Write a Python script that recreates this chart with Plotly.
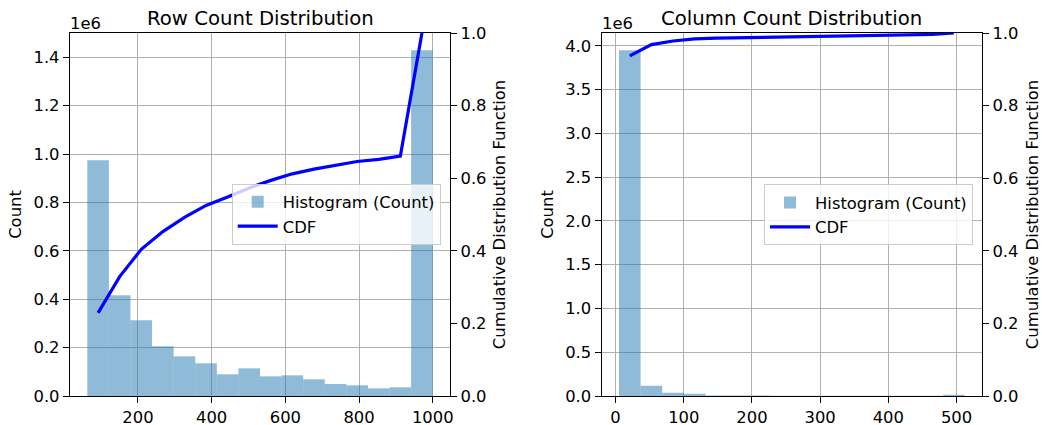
import plotly.graph_objects as go

# ---------------- data ----------------
row_bin_edges = [62.5, 121.1, 179.7, 238.3, 296.9, 355.5, 414.1, 472.7, 531.3,
                 589.8, 648.4, 707.0, 765.6, 824.2, 882.8, 941.4, 1000.0]
row_counts = [974500, 416300, 312900, 205400, 164000, 135100, 89600, 114400,
              81300, 85500, 68900, 49600, 44100, 31700, 35800, 1429300]
row_cdf = [0.229, 0.329, 0.404, 0.453, 0.492, 0.525, 0.548, 0.573, 0.594,
           0.612, 0.625, 0.636, 0.646, 0.652, 0.661, 1.0]

col_bin_edges = [5.0, 36.7, 68.4, 100.1, 131.8, 163.4, 195.1, 226.8, 258.5,
                 290.2, 321.9, 353.6, 385.3, 417.0, 448.6, 480.3, 512.0]
col_counts = [3950000, 118000, 38000, 25000, 6000, 5000, 5000, 4000, 4000,
              3000, 3000, 3000, 2000, 2000, 2000, 13000]
col_cdf = [0.937, 0.968, 0.978, 0.984, 0.986, 0.987, 0.988, 0.989, 0.990,
           0.991, 0.992, 0.993, 0.994, 0.995, 0.996, 1.0]

row_xticks = [200, 400, 600, 800, 1000]
row_yticks = [0, 200000, 400000, 600000, 800000, 1000000, 1200000, 1400000]
row_yticktext = ["0.0", "0.2", "0.4", "0.6", "0.8", "1.0", "1.2", "1.4"]
col_xticks = [0, 100, 200, 300, 400, 500]
col_yticks = [0, 500000, 1000000, 1500000, 2000000, 2500000, 3000000, 3500000, 4000000]
col_yticktext = ["0.0", "0.5", "1.0", "1.5", "2.0", "2.5", "3.0", "3.5", "4.0"]
cdf_ticks = [0, 0.2, 0.4, 0.6, 0.8, 1.0]
cdf_ticktext = ["0.0", "0.2", "0.4", "0.6", "0.8", "1.0"]

titles = ["Row Count Distribution", "Column Count Distribution"]


def centers(edges):
    return [(a + b) / 2 for a, b in zip(edges[:-1], edges[1:])]


def widths(edges):
    return [b - a for a, b in zip(edges[:-1], edges[1:])]


FONT = "DejaVu Sans"
FS = 16.4
TFS = 19.7
BAR_COLOR = "rgba(31,119,180,0.5)"
GRID = "#b0b0b0"
LW = 1.3

fig = go.Figure()

fig.add_trace(go.Bar(x=centers(row_bin_edges), y=row_counts, width=widths(row_bin_edges),
                     marker=dict(color=BAR_COLOR, line=dict(width=0)),
                     name="Histogram (Count)", xaxis="x", yaxis="y",
                     legend="legend", legendgroup="a"))
fig.add_trace(go.Scatter(x=centers(row_bin_edges), y=row_cdf, mode="lines",
                         line=dict(color="#0000ff", width=3.2),
                         name="CDF", xaxis="x", yaxis="y2",
                         legend="legend", legendgroup="b"))
fig.add_trace(go.Bar(x=centers(col_bin_edges), y=col_counts, width=widths(col_bin_edges),
                     marker=dict(color=BAR_COLOR, line=dict(width=0)),
                     name="Histogram (Count)", xaxis="x2", yaxis="y3",
                     legend="legend2", legendgroup="c"))
fig.add_trace(go.Scatter(x=centers(col_bin_edges), y=col_cdf, mode="lines",
                         line=dict(color="#0000ff", width=3.2),
                         name="CDF", xaxis="x2", yaxis="y4",
                         legend="legend2", legendgroup="d"))

tickfont = dict(family=FONT, size=FS, color="black")
common_x = dict(showline=True, linecolor="black", linewidth=LW, mirror=True,
                ticks="outside", ticklen=6, tickwidth=LW, tickcolor="black",
                showgrid=True, gridcolor=GRID, gridwidth=LW, zeroline=False,
                tickfont=tickfont, automargin=False)
common_y = dict(showline=True, linecolor="black", linewidth=LW,
                ticks="outside", ticklen=6, tickwidth=LW, tickcolor="black",
                showgrid=True, gridcolor=GRID, gridwidth=LW, zeroline=False,
                tickfont=tickfont, automargin=False)
cdf_y = dict(showline=True, linecolor="black", linewidth=LW, side="right",
             ticks="outside", ticklen=6, tickwidth=LW, tickcolor="black",
             showgrid=False, zeroline=False, tickfont=tickfont, automargin=False,
             range=[0, 1], tickvals=cdf_ticks, ticktext=cdf_ticktext)

D1 = [0.0, 0.4167]
D2 = [0.583, 1.0]

ML, MR, MT, MB = 70, 60, 33, 29
PW = 1042 - ML - MR
PH = 425 - MT - MB

fig.update_layout(
    width=1042, height=425,
    margin=dict(l=ML, r=MR, t=MT, b=MB, autoexpand=False),
    paper_bgcolor="white", plot_bgcolor="white",
    font=dict(family=FONT, size=FS, color="black"),
    barmode="overlay",
    xaxis=dict(domain=D1, anchor="y", range=[15.6, 1046.9], tickvals=row_xticks, **common_x),
    yaxis=dict(domain=[0, 1], anchor="x", range=[0, 1500700], tickvals=row_yticks,
               ticktext=row_yticktext,
               title=dict(text="Count", font=dict(family=FONT, size=FS), standoff=7),
               **common_y),
    yaxis2=dict(overlaying="y", anchor="x",
                title=dict(text="Cumulative Distribution Function",
                           font=dict(family=FONT, size=FS), standoff=7),
                **cdf_y),
    xaxis2=dict(domain=D2, anchor="y3", range=[-20.35, 537.35], tickvals=col_xticks, **common_x),
    yaxis3=dict(domain=[0, 1], anchor="x2", range=[0, 4147500], tickvals=col_yticks,
                ticktext=col_yticktext,
                title=dict(text="Count", font=dict(family=FONT, size=FS), standoff=7),
                **common_y),
    yaxis4=dict(overlaying="y3", anchor="x2",
                title=dict(text="Cumulative Distribution Function",
                           font=dict(family=FONT, size=FS), standoff=10),
                **cdf_y),
    legend=dict(x=(231.7 - ML) / PW, y=1 - (183.7 - MT) / PH, xanchor="left", yanchor="top",
                bgcolor="rgba(255,255,255,0.8)", bordercolor="#cccccc", borderwidth=1,
                font=dict(family=FONT, size=FS), itemwidth=40, tracegroupgap=0),
    legend2=dict(x=(764 - ML) / PW, y=1 - (184.3 - MT) / PH, xanchor="left", yanchor="top",
                 bgcolor="rgba(255,255,255,0.8)", bordercolor="#cccccc", borderwidth=1,
                 font=dict(family=FONT, size=FS), itemwidth=40, tracegroupgap=0),
    showlegend=True,
)

annos = []
for dom, t in zip([D1, D2], titles):
    annos.append(dict(text=t, x=(dom[0] + dom[1]) / 2, y=1, xref="paper", yref="paper",
                      xanchor="center", yanchor="bottom", yshift=1, showarrow=False,
                      font=dict(family=FONT, size=TFS, color="black")))
    annos.append(dict(text="1e6", x=dom[0], y=1, xref="paper", yref="paper",
                      xanchor="left", yanchor="bottom", yshift=-2, xshift=-2, showarrow=False,
                      font=dict(family=FONT, size=FS, color="black")))
fig.update_layout(annotations=annos)

fig.write_html("out.html", config={"displayModeBar": False},
               post_script="document.body.style.margin='0';document.body.style.overflow='hidden';")
